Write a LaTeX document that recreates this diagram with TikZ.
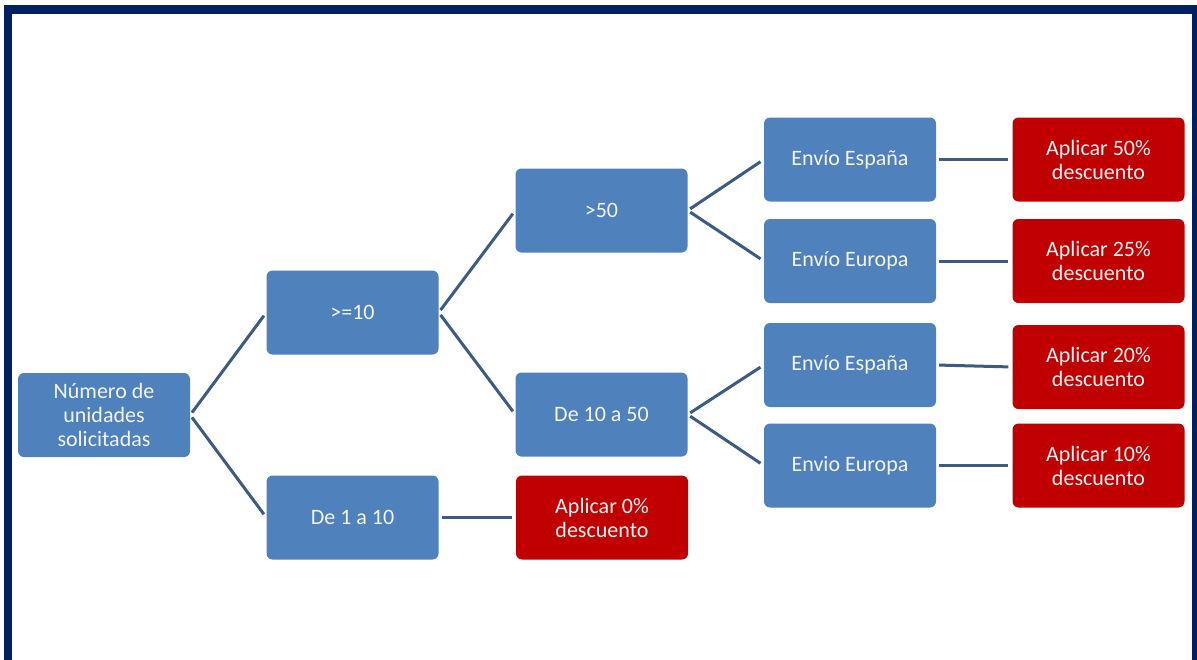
\documentclass[tikz,border=0pt]{standalone}
\usepackage{fontspec}
\setmainfont{Carlito}
\definecolor{boxblue}{HTML}{4F81BD}
\definecolor{boxred}{HTML}{C00000}
\definecolor{linecol}{HTML}{3D5A80}
\definecolor{frame}{HTML}{002060}
\definecolor{textcol}{HTML}{F4F4F4}
\tikzset{
  bluebox/.style={rectangle, rounded corners=6pt, fill=boxblue, minimum width=172pt, minimum height=84pt, inner sep=0pt, text=textcol, align=center, font=\fontsize{22}{24}\selectfont},
  redbox/.style={bluebox, fill=boxred},
  conn/.style={draw=linecol, line width=3pt, shorten <=3pt, shorten >=4pt},
}
\begin{document}
\begin{tikzpicture}[x=1pt,y=-1pt]
\useasboundingbox (0,0) rectangle (1197,659);
\fill[white] (0,0) rectangle (1197,659);
\begin{scope}
\clip (0,0) rectangle (1197,659);
\fill[frame] (4,5) rectangle (1197,14);
\fill[frame] (4,5) rectangle (12,670);
\fill[frame] (1192,5) rectangle (1200,670);
\end{scope}
\node[bluebox] (root) at (104,415) {Número de\\unidades\\solicitadas};
\node[bluebox] (ge10) at (352.5,312.5) {>=10};
\node[bluebox] (d1a10) at (352.5,517.5) {De 1 a 10};
\node[redbox] (r0) at (602,517.5) {Aplicar 0\%\\descuento};
\node[bluebox] (gt50) at (601.5,210.5) {>50};
\node[bluebox] (d10a50) at (601.5,414.5) {De 10 a 50};
\node[bluebox] (es1) at (850,159.5) {Envío España};
\node[bluebox] (eu1) at (850,261) {Envío Europa};
\node[bluebox] (es2) at (850,365) {Envío España};
\node[bluebox] (eu2) at (850,465.5) {Envio Europa};
\node[redbox] (r50) at (1098.5,159.5) {Aplicar 50\%\\descuento};
\node[redbox] (r25) at (1098.5,261) {Aplicar 25\%\\descuento};
\node[redbox] (r20) at (1098.5,367) {Aplicar 20\%\\descuento};
\node[redbox] (r10) at (1098.5,465.5) {Aplicar 10\%\\descuento};
\draw[conn] (root.east) -- (ge10.west);
\draw[conn] (root.east) -- (d1a10.west);
\draw[conn] (ge10.east) -- (gt50.west);
\draw[conn] (ge10.east) -- (d10a50.west);
\draw[conn] (d1a10.east) -- (r0.west);
\draw[conn] (gt50.east) -- (es1.west);
\draw[conn] (gt50.east) -- (eu1.west);
\draw[conn] (d10a50.east) -- (es2.west);
\draw[conn] (d10a50.east) -- (eu2.west);
\draw[conn] (es1.east) -- (r50.west);
\draw[conn] (eu1.east) -- (r25.west);
\draw[conn] (es2.east) -- (r20.west);
\draw[conn] (eu2.east) -- (r10.west);
\end{tikzpicture}
\end{document}
